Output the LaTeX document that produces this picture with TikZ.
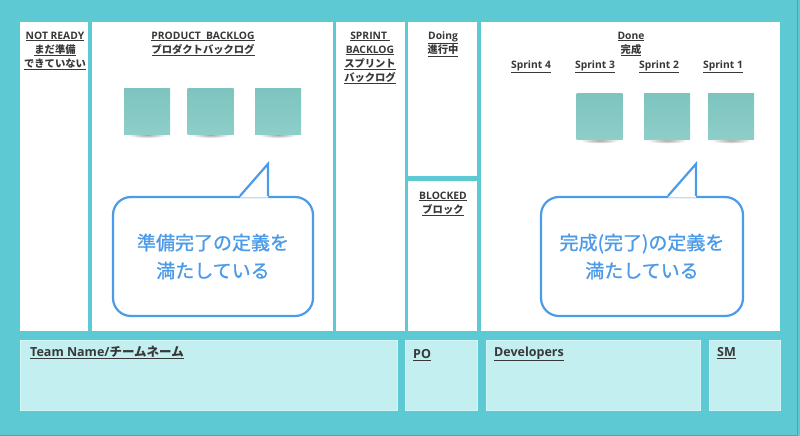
\documentclass[tikz,border=0pt]{standalone}
\usepackage{fontspec}
\setmainfont{Open Sans}
\newfontfamily\jp{Noto Sans CJK JP}
\newfontfamily\jpmed[FakeBold=1.1]{Noto Sans CJK JP}
\usepackage{xcolor}
\usepackage{tikz}
\usetikzlibrary{positioning}

\definecolor{boardbg}{HTML}{5DC9D2}
\definecolor{boardedge}{HTML}{4AA8AE}
\definecolor{teambg}{HTML}{C3EFF0}
\definecolor{teamedge}{HTML}{D3F5F5}
\definecolor{stickytop}{HTML}{7EC4BE}
\definecolor{stickybot}{HTML}{8DCEC9}
\definecolor{bubblue}{HTML}{4C9BE8}
\definecolor{hdrtext}{HTML}{383838}

\tikzset{
    column/.style={
      rectangle,
      fill=white,
      inner sep=0pt,
    },
    teambox/.style={
      rectangle,
      fill=teambg,
      draw=teamedge, line width=0.8pt,
      inner sep=0pt,
    },
    header/.style={
      anchor=north,
      inner sep=0pt,
      align=center,
      text=hdrtext,
      font=\bfseries\fontsize{10.3}{14}\selectfont,
    },
    teamlabel/.style={
      anchor=north west,
      inner sep=0pt,
      text=hdrtext,
      font=\bfseries\fontsize{12.5}{15}\selectfont,
    },
    sticky/.style={
      rectangle,
      minimum size=46pt,
      inner sep=0pt,
      top color=stickytop,
      bottom color=stickybot,
    },
    stickyshadow/.style={
      inner color=black!35,
      outer color=white,
    },
    bubble/.style={
      rectangle,
      rounded corners=18pt,
      draw=bubblue, line width=2.2pt,
      fill=white,
      inner sep=0pt,
      align=center,
      text=bubblue,
      font=\jpmed\fontsize{19}{28}\selectfont,
    },
    tail/.style={
      draw=bubblue, line width=2.2pt,
      line join=miter,
    },
}

\begin{document}
\begin{tikzpicture}[x=1pt,y=-1pt]

    \fill[boardbg] (0,0) rectangle (800,436);
    \useasboundingbox (0,0) rectangle (800,436);
    \draw[boardedge, line width=0.8pt] (797.6,0) -- (797.6,435.6) -- (0,435.6);

    % board columns
    \node[column, minimum width=68pt, minimum height=309pt] (notready) at (54,176.5) {};
    \node[column, minimum width=241pt, minimum height=309pt] (product) at (212.5,176.5) {};
    \node[column, minimum width=69pt, minimum height=309pt] (sprint) at (370.5,176.5) {};
    \node[column, minimum width=69pt, minimum height=154pt] (doing) at (442.5,99) {};
    \node[column, minimum width=69pt, minimum height=150pt] (blocked) at (442.5,256) {};
    \node[column, minimum width=299pt, minimum height=309pt] (done) at (630.5,176.5) {};

    % headers
    \node[header] (notreadylbl) at (55,31.5)
    {
      \underline{NOT READY} \\
      \underline{\jp まだ準備} \\
      \underline{\jp できていない}
    };
    \node[header] (productlbl) at (203,31.5)
    {
      \underline{PRODUCT\ \ BACKLOG} \\
      \underline{\jp プロダクトバックログ}
    };
    \node[header] (sprintlbl) at (370,31.5)
    {
      \underline{SPRINT\ } \\
      \underline{BACKLOG} \\
      \underline{\jp スプリント} \\
      \underline{\jp バックログ}
    };
    \node[header] (doinglbl) at (443,31.5)
    {
      \underline{Doing} \\
      \underline{\jp 進行中}
    };
    \node[header] (blockedlbl) at (443,191.5)
    {
      \underline{BLOCKED} \\
      \underline{\jp ブロック}
    };
    \node[header] (donelbl) at (631,31.5)
    {
      \underline{Done} \\
      \underline{\jp 完成}
    };
    \foreach \n/\x in {4/531, 3/595, 2/659, 1/723}
      \node[header] (sprint\n lbl) at (\x,60.5) {\underline{Sprint \n}};

    % sticky notes
    \foreach \n/\x in {pb1/147, pb2/210.5, pb3/278}
    {
      \shade[stickyshadow] (\x,135) ellipse (20pt and 3pt);
      \node[sticky] (\n) at (\x,111) {};
    }
    \foreach \n/\x in {sp3/599.5, sp2/667, sp1/731}
    {
      \shade[stickyshadow] (\x,140.5) ellipse (20pt and 3pt);
      \node[sticky] (\n) at (\x,116.5) {};
    }

    % speech bubbles
    \node[bubble, minimum width=200pt, minimum height=119pt] (readybub) at (213,256.5)
    {
      準備完了の定義を \\
      満たしている
    };
    \fill[white] ([xshift=27pt, yshift=-1.6pt]readybub.north)
      -- ([xshift=55pt, yshift=32pt]readybub.north)
      -- ([xshift=55pt, yshift=-1.6pt]readybub.north) -- cycle;
    \draw[tail] ([xshift=27pt]readybub.north)
      -- ([xshift=55pt, yshift=32pt]readybub.north)
      -- ([xshift=55pt]readybub.north);

    \node[bubble, minimum width=202pt, minimum height=119pt] (donebub) at (642,256.5)
    {
      完成(完了)の定義を \\
      満たしている
    };
    \fill[white] ([xshift=26pt, yshift=-1.6pt]donebub.north)
      -- ([xshift=54pt, yshift=32pt]donebub.north)
      -- ([xshift=54pt, yshift=-1.6pt]donebub.north) -- cycle;
    \draw[tail] ([xshift=26pt]donebub.north)
      -- ([xshift=54pt, yshift=32pt]donebub.north)
      -- ([xshift=54pt]donebub.north);

    % team area
    \node[teambox, minimum width=377pt, minimum height=70pt] (team) at (208.5,375) {};
    \node[teambox, minimum width=72pt, minimum height=70pt] (po) at (441,375) {};
    \node[teambox, minimum width=214pt, minimum height=70pt] (devs) at (593,375) {};
    \node[teambox, minimum width=71pt, minimum height=70pt] (sm) at (744.5,375) {};

    \node[teamlabel] (teamlbl) at (30,345.5) {\underline{Team Name/{\jp チームネーム}}};
    \node[teamlabel] (polbl) at (413,349.5) {\underline{PO}};
    \node[teamlabel] (devslbl) at (494,346.5) {\underline{Developers}};
    \node[teamlabel] (smlbl) at (717,347.5) {\underline{SM}};

\end{tikzpicture}
\end{document}
